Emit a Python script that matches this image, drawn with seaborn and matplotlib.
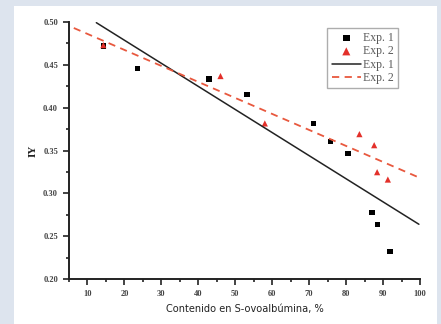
import numpy as np
import pandas as pd
import matplotlib
matplotlib.use('Agg')
import matplotlib.pyplot as plt
import seaborn as sns
from matplotlib.patches import Rectangle
from matplotlib.ticker import MultipleLocator

# Exp. 1 (squares)
exp1_x = [14.3, 23.6, 42.9, 53.2, 71.2, 75.7, 80.5, 87.0, 88.6, 91.9]
exp1_y = [0.472, 0.4455, 0.4334, 0.4155, 0.3812, 0.3606, 0.3465, 0.2775, 0.2639, 0.232]
# Exp. 2 (triangles)
exp2_x = [14.3, 46.0, 58.0, 83.6, 87.6, 88.4, 91.3]
exp2_y = [0.473, 0.4369, 0.3816, 0.3691, 0.3562, 0.3247, 0.3161]
# fitted lines, end points
fit1_x = [12.4, 99.7]
fit1_y = [0.4992, 0.2639]
fit2_x = [6.3, 99.7]
fit2_y = [0.4930, 0.3185]

xlabel = 'Contenido en S-ovoalbúmina, %'
ylabel = 'IY'

sns.set_style('ticks')
plt.rcParams['font.family'] = ['Liberation Serif', 'DejaVu Serif']
plt.rcParams['xtick.bottom'] = True
plt.rcParams['ytick.left'] = True

fig = plt.figure(figsize=(4.41, 3.24), dpi=100)
fig.patch.set_facecolor('#dde4ee')
fig.patches.append(Rectangle((14/441, 0), 423/441, 1 - 6/324, transform=fig.transFigure,
                             facecolor='white', edgecolor='none', zorder=-5))
ax = fig.add_axes([69/441, 1 - 279/324, 351/441, 257/324])
ax.set_facecolor('none')

df1 = pd.DataFrame({'x': exp1_x, 'y': exp1_y})
df2 = pd.DataFrame({'x': exp2_x, 'y': exp2_y})
red = '#e3302a'

sns.lineplot(x=fit1_x, y=fit1_y, ax=ax, color='#222222', lw=1.1, label='Exp. 1 ')
sns.lineplot(x=fit2_x, y=fit2_y, ax=ax, color='#e8583e', lw=1.3, linestyle=(0, (4, 3)), label='Exp. 2 ')
sns.scatterplot(data=df1, x='x', y='y', ax=ax, marker='s', color='black', s=14,
                edgecolor='none', label='Exp. 1')
sns.scatterplot(data=df2, x='x', y='y', ax=ax, marker='^', color=red, s=20,
                edgecolor='none', label='Exp. 2')

ax.set_xlim(5, 100)
ax.set_ylim(0.20, 0.50)
ax.set_xticks(np.arange(10, 101, 10))
ax.xaxis.set_minor_locator(MultipleLocator(5))
ax.yaxis.set_major_locator(MultipleLocator(0.05))
ax.yaxis.set_minor_locator(MultipleLocator(0.025))
ax.yaxis.set_major_formatter(matplotlib.ticker.FormatStrFormatter('%.2f'))
ax.tick_params(axis='both', which='both', bottom=True, left=True, top=False, right=False,
               direction='out', color='#222222', width=1.2)
ax.tick_params(which='major', length=4, labelsize=6, pad=4, labelcolor='#444444')
ax.tick_params(which='minor', length=2.5)
for t in ax.get_xticklabels() + ax.get_yticklabels():
    t.set_fontweight('bold')
sns.despine(ax=ax)
for s in ['left', 'bottom']:
    ax.spines[s].set_linewidth(1.4)
    ax.spines[s].set_color('#222222')

ax.set_xlabel(xlabel, family=['DejaVu Sans'], fontstretch='condensed', fontsize=7.8,
              color='#222222', labelpad=4)
ax.set_ylabel(ylabel, family=['Liberation Serif', 'DejaVu Serif'], fontsize=8,
              fontweight='bold', color='#222222', labelpad=4)

h, l = ax.get_legend_handles_labels()
order = [2, 3, 0, 1]
leg = ax.legend([h[i] for i in order], ['Exp. 1', 'Exp. 2', 'Exp. 1', 'Exp. 2'],
                loc='upper right', bbox_to_anchor=(0.955, 1.0), fontsize=8.5,
                frameon=True, fancybox=False, edgecolor='#999999', handlelength=2.5,
                handletextpad=0.2, labelspacing=0.12, borderpad=0.35, labelcolor='#5a5a5a',
                markerscale=1.3)
leg.get_frame().set_linewidth(1.0)

fig.savefig('out.png', dpi=100, facecolor=fig.get_facecolor())
